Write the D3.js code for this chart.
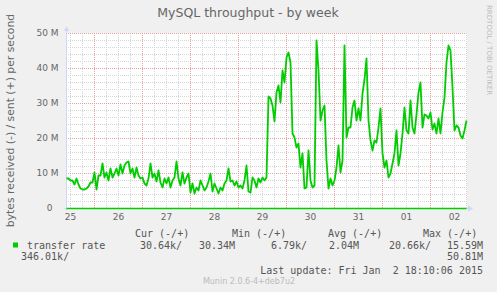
<!DOCTYPE html>
<html lang="en">

<head>
	<meta charset="UTF-8"/>
	<title>MySQL throughput - by week</title>
	<script src="https://d3js.org/d3.v7.min.js"></script>
	<style>
		body { margin: 0; background: #F0F0F0; overflow: hidden; }
		text { font-family: "DejaVu Sans", sans-serif; fill: #666; }
		.mono { font-family: "DejaVu Sans Mono", monospace; font-size: 10px; white-space: pre; fill: #555; }
	</style>
</head>

<body>
	<script>
		//dimensions of the whole image and of the plot area
		var w = 497;
		var h = 292;
		var plotLeft = 66, plotRight = 466, plotTop = 33, plotBottom = 208;

		//time range: 400 samples of 30 min ending at last update
		var endTime = Date.UTC(2015, 0, 2, 18, 10, 6);
		var startTime = endTime - 720000 * 1000;
		var stepHours = 1;

		//bytes sent per second (millions), one value per hour
		var sent = [
			8.5, 8.5, 8.0, 8.0, 7.0, 8.5, 7.0, 5.8, 5.5, 5.5,
			5.8, 6.3, 7.5, 7.5, 10.4, 5.5, 9.4, 9.5, 13.0, 9.0,
			10.4, 8.0, 11.3, 9.0, 9.9, 11.3, 9.5, 12.5, 9.9, 12.3,
			13.2, 13.5, 9.9, 11.3, 9.0, 11.8, 9.5, 8.5, 9.0, 7.1,
			6.6, 8.5, 13.0, 9.0, 9.9, 7.6, 10.9, 7.5, 6.1, 8.5,
			7.1, 9.0, 6.1, 8.0, 9.0, 13.5, 8.5, 6.6, 10.4, 7.1,
			9.0, 9.9, 4.5, 7.1, 4.2, 6.1, 5.1, 8.0, 6.6, 5.1,
			6.1, 7.6, 9.9, 5.0, 7.1, 5.6, 4.2, 6.1, 5.1, 7.1,
			8.0, 11.3, 7.6, 8.0, 6.6, 7.6, 6.1, 6.6, 5.6, 8.0,
			12.3, 5.0, 4.5, 9.0, 8.0, 6.1, 8.5, 7.5, 9.0, 8.0,
			9.0, 32.0, 31.3, 29.5, 25.0, 33.2, 35.1, 30.4, 39.4, 36.1,
			43.2, 44.7, 41.8, 21.3, 20.4, 17.5, 18.5, 11.8, 15.6, 5.6,
			6.1, 16.6, 8.0, 6.1, 6.6, 48.0, 39.4, 25.1, 28.0, 29.4,
			13.7, 5.6, 8.5, 6.6, 8.0, 11.8, 18.0, 10.4, 13.7, 46.6,
			20.4, 23.2, 23.2, 29.0, 30.9, 25.1, 28.5, 25.1, 32.8, 37.0,
			42.8, 25.1, 19.4, 16.6, 19.4, 19.0, 23.2, 28.5, 15.6, 11.8,
			13.7, 9.0, 9.9, 12.8, 15.6, 22.3, 12.3, 15.6, 21.3, 29.0,
			22.3, 21.3, 30.9, 23.2, 21.3, 27.0, 33.2, 36.1, 23.2, 27.0,
			26.6, 25.6, 27.5, 22.7, 24.2, 21.3, 25.6, 21.3, 27.5, 31.8,
			41.8, 46.6, 45.1, 34.7, 22.3, 23.7, 23.2, 20.9, 19.9, 22.3,
			25.1
		];
		//bytes received are only a few kB/s, so they sit on the zero line
		var received = [0.03, 0.03];

		//y axis ticks (M)
		var yMinorTicks = [2, 4, 6, 8, 12, 14, 16, 18, 22, 24, 26, 28, 32, 34, 36, 38, 42, 44, 46, 48];
		var yMajorTicks = [0, 10, 20, 30, 40, 50];

		//legend texts
		var legendHeader = ["Cur (-/+)", "Min (-/+)", "Avg (-/+)", "Max (-/+)"];
		var seriesName = "transfer rate";
		var legendValues = ["30.64k/", "30.34M", "6.79k/", "2.04M", "20.66k/", "15.59M", "346.01k/", "50.81M"];
		var lastUpdate = "Last update: Fri Jan  2 18:10:06 2015";

		var points = sent.map(function (v, i) {
			return [startTime + i * stepHours * 3600000, v];
		});

		//rounded scales so the dotted grid lands on whole pixels
		var xScale = d3.scaleUtc()
			.domain([new Date(startTime), new Date(endTime)])
			.range([plotLeft, plotRight])
			.interpolate(d3.interpolateRound);

		var yScale = d3.scaleLinear()
			.domain([0, 50])
			.range([plotBottom, plotTop])
			.interpolate(d3.interpolateRound);

		var svg = d3.select("body")
			.append("svg")
			.attr("width", w)
			.attr("height", h);

		svg.append("rect").attr("width", w).attr("height", h).attr("fill", "#F0F0F0");
		svg.append("rect")
			.attr("x", plotLeft).attr("y", plotTop)
			.attr("width", plotRight - plotLeft + 1).attr("height", plotBottom - plotTop + 1)
			.attr("fill", "#fff");

		//grid lines: 6 hours minor, 1 day major
		var minorTimes = xScale.ticks(d3.utcHour.every(6)).filter(function (d) { return d.getUTCHours() != 0; });
		var majorTimes = xScale.ticks(d3.utcDay.every(1));

		function grid(g, color) {
			g.select(".domain").remove();
			g.selectAll("line")
				.attr("stroke", color)
				.attr("stroke-dasharray", "1,1");
		}

		svg.append("g")
			.attr("transform", "translate(0," + plotBottom + ")")
			.call(d3.axisBottom(xScale).tickValues(minorTimes).tickSize(-(plotBottom - plotTop)).tickFormat(""))
			.call(grid, "#d4d4d4");

		svg.append("g")
			.attr("transform", "translate(" + plotLeft + ",0)")
			.call(d3.axisLeft(yScale).tickValues(yMinorTicks).tickSize(-(plotRight - plotLeft)).tickFormat(""))
			.call(grid, "#d4d4d4");

		svg.append("g")
			.attr("transform", "translate(0," + plotBottom + ")")
			.call(d3.axisBottom(xScale).tickValues(majorTimes).tickSize(-(plotBottom - plotTop)).tickFormat(""))
			.call(grid, "#e5a0a0");

		svg.append("g")
			.attr("transform", "translate(" + plotLeft + ",0)")
			.call(d3.axisLeft(yScale).tickValues(yMajorTicks).tickSize(-(plotRight - plotLeft)).tickFormat(""))
			.call(grid, "#e5a0a0");

		//day labels centred at noon
		var labelTimes = majorTimes.map(function (d) { return d3.utcHour.offset(d, -12); })
			.concat([d3.utcHour.offset(majorTimes[majorTimes.length - 1], 12)]);
		var xAxis = svg.append("g")
			.attr("transform", "translate(0," + plotBottom + ")")
			.call(d3.axisBottom(xScale).tickValues(labelTimes).tickSize(0).tickPadding(0).tickFormat(d3.utcFormat("%d")));
		xAxis.select(".domain").remove();
		xAxis.selectAll("text")
			.attr("y", 12).attr("dy", null)
			.attr("font-family", "DejaVu Sans").attr("font-size", 9).attr("fill", "#666");

		var yAxis = svg.append("g")
			.attr("transform", "translate(" + plotLeft + ",0)")
			.call(d3.axisLeft(yScale).tickValues(yMajorTicks).tickSize(0).tickPadding(7.5)
				.tickFormat(function (d) { return d == 0 ? "0" : d + " M"; }));
		yAxis.select(".domain").remove();
		yAxis.selectAll("text")
			.attr("font-family", "DejaVu Sans").attr("font-size", 9).attr("fill", "#666")
			.attr("dx", function (d) { return d == 0 ? -6 : 0; });

		//axis lines and arrows
		var ax = plotLeft + 0.5, ay = plotBottom + 0.5;
		svg.append("line").attr("x1", ax).attr("x2", ax).attr("y1", ay + 2).attr("y2", plotTop - 3)
			.attr("stroke", "#CFD6F8");
		svg.append("path").attr("d", "M" + (ax - 2.5) + "," + (plotTop - 2) + "L" + (ax + 2.5) + "," + (plotTop - 2) + "L" + ax + "," + (plotTop - 7) + "Z")
			.attr("fill", "#CFD6F8");
		svg.append("line").attr("x1", ax - 2).attr("x2", plotRight + 3).attr("y1", ay).attr("y2", ay)
			.attr("stroke", "#CFD6F8");
		svg.append("path").attr("d", "M" + (plotRight + 2) + "," + (ay - 3) + "L" + (plotRight + 2) + "," + (ay + 3) + "L" + (plotRight + 7) + "," + ay + "Z")
			.attr("fill", "#CFD6F8");

		//the data lines
		var line = d3.line()
			.x(function (d) { return xScale(d[0]) + 0.5; })
			.y(function (d) { return yScale(d[1]) + 0.5; });

		svg.append("path")
			.datum([[startTime, received[0]], [endTime, received[1]]])
			.attr("d", line)
			.attr("fill", "none")
			.attr("stroke", "#00CC00")
			.attr("stroke-width", 1.6);

		svg.append("path")
			.datum(points)
			.attr("d", line)
			.attr("fill", "none")
			.attr("stroke", "#00CC00")
			.attr("stroke-width", 1.8)
			.attr("stroke-linejoin", "round");

		//titles
		svg.append("text")
			.attr("x", 248).attr("y", 17)
			.attr("text-anchor", "middle")
			.attr("font-size", "12.5px")
			.text("MySQL throughput - by week");

		svg.append("text")
			.attr("transform", "translate(14," + ((plotTop + plotBottom) / 2) + ") rotate(-90)")
			.attr("text-anchor", "middle")
			.attr("font-size", "10.8px")
			.text("bytes received (-) / sent (+) per second");

		svg.append("text")
			.attr("transform", "translate(487,5) rotate(90)")
			.attr("font-size", "7px")
			.style("fill", "#bbb")
			.text("RRDTOOL / TOBI OETIKER");

		//legend
		var headerX = [135, 232, 328, 423];
		svg.selectAll(".hdr")
			.data(legendHeader)
			.enter()
			.append("text")
			.attr("class", "mono")
			.attr("x", function (d, i) { return headerX[i]; })
			.attr("y", 237)
			.text(function (d) { return d; });

		svg.append("rect")
			.attr("x", 13).attr("y", 242.5).attr("width", 5).attr("height", 5)
			.attr("fill", "#00CC00");
		svg.append("text").attr("class", "mono").attr("x", 27).attr("y", 249).text(seriesName);

		var valueX = [140, 199, 271, 329, 389, 447, 21, 483];
		var valueY = [249, 249, 249, 249, 249, 249, 260, 260];
		svg.selectAll(".val")
			.data(legendValues)
			.enter()
			.append("text")
			.attr("class", "mono")
			.attr("x", function (d, i) { return valueX[i]; })
			.attr("y", function (d, i) { return valueY[i]; })
			.attr("text-anchor", function (d, i) { return i == 7 ? "end" : "start"; })
			.text(function (d) { return d; });

		svg.append("text").attr("class", "mono")
			.attr("x", 483).attr("y", 273.5)
			.attr("text-anchor", "end")
			.text(lastUpdate);

		svg.append("text")
			.attr("x", 249).attr("y", 284)
			.attr("text-anchor", "middle")
			.attr("font-size", "8px")
			.style("fill", "#bbb")
			.text("Munin 2.0.6-4+deb7u2");
	</script>
</body>
</html>
